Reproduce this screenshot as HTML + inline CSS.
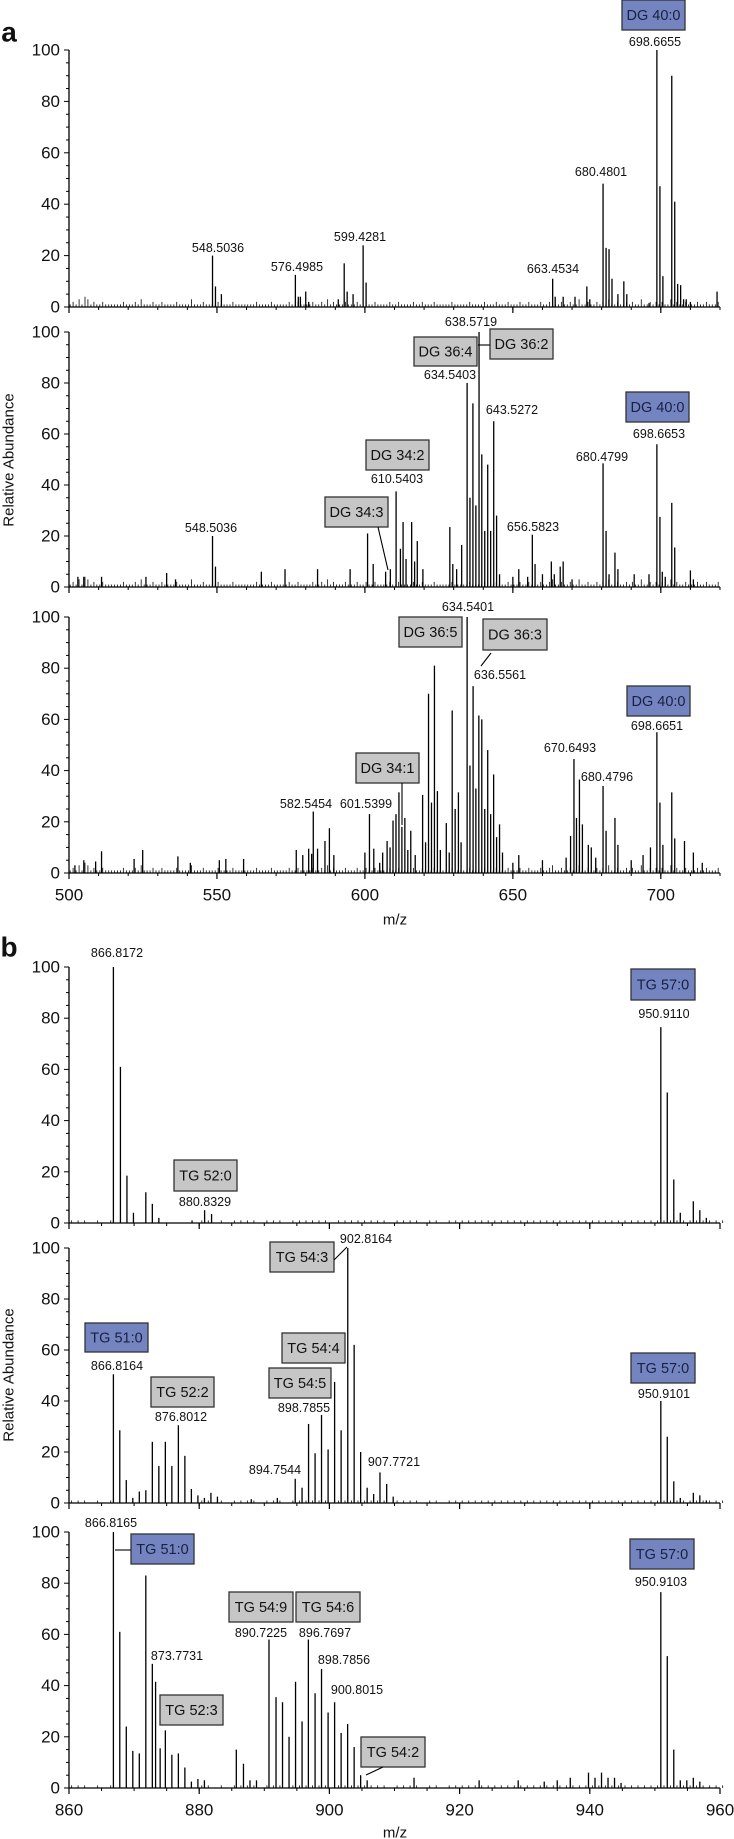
<!DOCTYPE html>
<html><head><meta charset="utf-8"><style>
body{margin:0;background:#fff}
svg{display:block}
text{font-family:"Liberation Sans",Arial,sans-serif}
</style></head><body>
<svg id="chart" width="734" height="1839" viewBox="0 0 734 1839" xmlns="http://www.w3.org/2000/svg"></svg>
<script>
// ---------- DATA ----------
// Panel a1
const a1Mz=[548.5,549.5,551.5,576.5,577.5,578.2,580,581,591,593,594,596,599.4,600.4,663.45,664.3,667,671,675,676,680.48,681.5,682.5,683.5,685.5,687.5,688.5,696,698.67,699.7,700.7,703.7,704.7,705.7,706.7,707.7,708.6,710,719];
const a1Int=[20,8,5,12.5,4,4,6,2,3,17,6,5,24,9.5,11,4,4,4,8,3,48,23,22.5,11,5,10,5,1.5,100,47,12,90,41,9,8.5,3,3,2,6];
// Panel a2
const a2Mz=[503,505,511,526,533,536,548.5,549.5,565,573,584,595,600.9,602.8,607,608.6,610.54,612,612.9,613.9,615.8,616.8,617.7,619.6,628.7,629.7,631,632.7,634.54,635.5,636.5,637.5,638.57,639.5,640.5,641.5,642.5,643.53,644.5,645.5,650,652,655,656.58,657.5,660,663,664,666,667,670,680.48,681.5,682.5,684.5,685.5,691,696,698.67,699.7,700.5,701.5,703.7,704.7,710,711];
const a2Int=[4,4,4,4,5.5,3,20,8,6,7,7,7,21,9,6,7,37.5,15,25.5,11,25.5,10,18,7,23.5,9,7,16.5,80,35,72,32,100,52,22,48,22,65,28,5,4,7,4,20.5,9,5,10,5,8,10,3,48.5,22,5,13.5,7,5,5,56,27.5,6,4,33,15.5,6.5,3];
// Panel a3
const a3Mz=[502,505,509,511,522,524.9,536.8,541,550.8,553,559,576.8,579,581,582,582.55,584,586.5,588,589.5,600,601.54,603,605,606,607.5,608.5,609.5,610.5,611.5,612.5,613.5,614.5,615.5,617,619.5,620.5,621.5,622.5,623.5,624.5,625.5,627.5,628.5,629.5,630.5,631.6,632.5,634.54,635.5,636.56,637.5,638.5,639.5,640.5,641.5,642.5,643.5,644.5,645.5,646.5,650,652,660,668,669.5,670.65,671.5,672.5,673.5,675.5,676.5,678,680.48,681.5,684.5,685.5,690,694,696.5,698.67,699.7,700.7,703.7,704.7,708,711,714];
const a3Int=[3,5,4.5,8.5,5.5,9,6.5,4,5,5.5,5.5,9,7,9.5,7.5,24,9.5,12.5,17.5,7,8,23,9.5,4,8,12.5,10,20.5,23,31.5,18,21.5,9,16.5,7,30.5,12,70,27.5,81,32,9,19.5,8,63.5,25,31.5,12,100,42,73,33,61.5,60,25,48,23,38.5,14,19,8,4,7,5,6,14.5,44.5,21.5,36.5,19,11,10,6,34,16.5,21.5,11,5,7,10,55,27.5,11,31.5,13.5,12.5,8,4];
// Shared baseline noise for panel a (m/z 500..719, step 1)
const aNoise=[1,2,1,3,1,4,3,1,2,1,1,2,1,1,1,1,1,1,2,1,1,1,2,1,3,1,1,1,2,1,1,2,1,1,1,1,2,1,1,1,1,3,1,1,1,2,1,1,1,1,2,1,1,1,1,2,1,1,1,1,1,1,1,2,1,1,1,1,2,1,1,1,1,1,2,1,1,2,1,1,1,1,2,1,1,2,1,3,1,2,1,1,1,2,1,1,1,2,1,1,2,1,1,2,1,1,1,1,2,1,1,2,1,1,1,1,2,1,1,2,1,1,1,2,1,1,1,1,1,2,1,1,1,1,1,2,1,1,1,1,2,1,1,1,2,1,1,1,2,1,1,1,2,1,1,2,1,1,1,2,1,1,2,3,1,1,2,1,1,2,1,1,3,1,1,2,1,1,2,1,2,1,3,1,1,2,1,1,2,1,2,1,1,3,1,1,2,1,2,1,2,1,1,3,1,2,1,1,2,1,1,1,2,1,1,2,1,1,1,2];
// Panel b1
const b1Mz=[866.82,867.9,868.9,869.9,871.8,872.8,873.8,878.9,880.83,881.9,950.91,951.9,952.9,953.9,955.9,956.9,957.9];
const b1Int=[100,61,18.5,4,12,7.5,2,1,5,3.5,76.5,51,17,4,8.5,5,2];
// Panel b2
const b2Mz=[866.82,867.8,868.8,869.8,870.8,871.8,872.8,873.8,874.8,875.8,876.8,877.8,878.8,879.8,880.8,881.8,882.8,888,892,894.75,895.8,896.8,897.8,898.79,899.8,900.8,901.8,902.82,903.8,904.8,905.8,906.8,907.77,908.8,909.8,950.91,951.9,952.9,953.9,955.9,956.9,957.9];
const b2Int=[50.5,28.5,9,2,4.5,5,24,14.5,24,14.5,30.5,18.5,5.5,3,2,4,2.5,1.5,2,9.5,6,31,19.5,34.5,21,47.5,28.5,100,62,20,6,3.5,12,7.5,2.5,40,26,8.5,2,4,3,1];
// Panel b3
const b3Mz=[866.82,867.8,868.8,869.8,870.8,871.8,872.8,873.3,874,874.8,875.8,876.8,877.8,878.8,879.8,880.8,885.7,886.8,887.8,888.8,890.72,891.8,892.8,893.8,894.8,895.8,896.77,897.8,898.79,899.8,900.8,901.8,902.8,903.8,904.8,905.8,913,923,929,933,935,937,939.8,940.8,941.8,942.8,943.8,944.8,950.91,951.9,952.9,953.9,954.9,955.9,956.9];
const b3Int=[100,61,24,14.5,13.5,83,48.5,41.5,15.5,22.5,13,13.5,8,2.5,3.5,3,15,9.5,3,3,58,35.5,33.5,20,41.5,26,58,37,46.5,29.5,33.5,21.5,25,16,5,3,4,3,3,2.5,3,4,6,4,6,4,4,2,76.5,51.5,15,3,3,4,2.5];
// Baseline noise for panel b (m/z 860..960, step 1)
const bNoise=[1,1,1,0,1,0,1,0,0,0,0,0,0,0,0,0,0,0,0,0,1,1,0,1,0,1,1,1,1,0,1,1,1,0,1,1,1,1,1,1,0,1,1,1,1,1,1,1,1,0,1,1,1,1,0,1,1,0,1,1,1,1,1,1,1,1,1,1,1,1,1,1,1,1,1,1,1,1,1,1,1,1,1,1,1,1,1,1,1,1,1,1,1,1,1,1,1,1,1,1,1];
const aTicks=[500,550,600,650,700];
const bTicks=[860,880,900,920,940,960];
const yTicks=[0,20,40,60,80,100];

// ---------- DRAWING ----------
const NS='http://www.w3.org/2000/svg';
const svg=document.getElementById('chart');
function mk(tag,attrs,parent){const e=document.createElementNS(NS,tag);for(const k in attrs)e.setAttribute(k,attrs[k]);(parent||svg).appendChild(e);return e;}
function txt(s,x,y,size,parent,anchor){const t=mk('text',{x:x,y:y,'font-size':size,'text-anchor':anchor||'middle','dominant-baseline':'central',fill:'#111'},parent);t.textContent=s;return t;}

const X0=69,X1=720;
function panel(name,top,bot,xmin,xmax,mz,inten,noise,ticks,minorStep,showLabels){
  const g=mk('g',{});
  
  
  const sx=v=>X0+(v-xmin)/(xmax-xmin)*(X1-X0);
  const sy=v=>bot-v/100*(bot-top);
  // noise
  let d='';
  for(let i=0;i<noise.length;i++){const v=noise[i];if(v>0){const x=sx(xmin+i+0.4);d+='M'+x.toFixed(1)+' '+bot+'V'+sy(v).toFixed(1);}}
  const np=mk('path',{d:d,stroke:'#222','stroke-width':0.9,fill:'none'},g);
  
  
  for(let i=0;i<mz.length;i++){
    const l=mk('line',{x1:sx(mz[i]),x2:sx(mz[i]),y1:bot,y2:sy(inten[i]),stroke:'#000','stroke-width':1.3},g);
    
    
  }
  // axes
  const ya=mk('line',{x1:X0,x2:X0,y1:top,y2:bot,stroke:'#000','stroke-width':1.3},g);
  
  
  const xa=mk('line',{x1:X0,x2:X1,y1:bot,y2:bot,stroke:'#000','stroke-width':1.3},g);
  
  
  for(let v=0;v<=100;v+=5){mk('line',{x1:X0-(v%20===0?5:3),x2:X0,y1:sy(v),y2:sy(v),stroke:'#000','stroke-width':1},g);}
  yTicks.forEach(v=>{const t=txt(String(v),X0-9,sy(v),17,g,'end');});
  for(let v=xmin;v<=xmax+0.001;v+=minorStep){mk('line',{x1:sx(v),x2:sx(v),y1:bot,y2:bot+3,stroke:'#000','stroke-width':1},g);}
  ticks.forEach(v=>{mk('line',{x1:sx(v),x2:sx(v),y1:bot,y2:bot+6,stroke:'#000','stroke-width':1.2},g);
    if(showLabels){const t=txt(String(v),sx(v),bot+22,17,g);}});
  return g;
}
panel('panel-a1',50,307,500,720,a1Mz,a1Int,aNoise,aTicks,10,false);
panel('panel-a2',332,587,500,720,a2Mz,a2Int,aNoise,aTicks,10,false);
panel('panel-a3',617,873,500,720,a3Mz,a3Int,aNoise,aTicks,10,true);
panel('panel-b1',967,1223,860,960,b1Mz,b1Int,bNoise,bTicks,5,false);
panel('panel-b2',1248,1503,860,960,b2Mz,b2Int,bNoise,bTicks,5,false);
panel('panel-b3',1532,1788,860,960,b3Mz,b3Int,bNoise,bTicks,5,true);

// annotations
function lab(s,x,y){const t=txt(s,x,y,12.5);}
function box(s,x1,y1,x2,y2,blue){
  const r=mk('rect',{x:x1,y:y1,width:x2-x1,height:y2-y1,fill:blue?'#7384c0':'#c6c6c6',stroke:'#333','stroke-width':1.3});
  
  
  const t=txt(s,(x1+x2)/2,(y1+y2)/2+1,14.5);t.setAttribute('fill',blue?'#1a2040':'#111');
  
  
}
function conn(x1,y1,x2,y2){const l=mk('line',{x1:x1,y1:y1,x2:x2,y2:y2,stroke:'#000','stroke-width':1.1});}

// a1
box('DG 40:0',622,0,685,30,true);lab('698.6655',655,42);
lab('548.5036',218,248);lab('576.4985',297,267);lab('599.4281',360,237);lab('663.4534',553,269);lab('680.4801',601,172);
// a2
lab('638.5719',471,322);box('DG 36:4',414,337,477,366,false);box('DG 36:2',490,329,553,359,false);conn(478,345,490,345);
lab('634.5403',450,375);lab('643.5272',512,410);box('DG 40:0',626,392,689,422,true);lab('698.6653',659,434);
lab('680.4799',602,457);box('DG 34:2',366,440,429,470,false);lab('610.5403',397,479);
box('DG 34:3',325,497,388,527,false);conn(378,527,388,570);lab('548.5036',211,528);lab('656.5823',533,527);
// a3
lab('634.5401',468,607);box('DG 36:5',399,617,462,647,false);box('DG 36:3',483,619,547,650,false);conn(491,653,481,666);
lab('636.5561',500,675);box('DG 40:0',627,686,690,716,true);lab('698.6651',657,726);lab('670.6493',570,748);lab('680.4796',607,777);
box('DG 34:1',356,753,419,783,false);conn(402,783,402,825);lab('582.5454',306,804);lab('601.5399',366,804);
// b1
lab('866.8172',117,953);box('TG 57:0',631,969,695,1000,true);lab('950.9110',664,1014);box('TG 52:0',174,1160,237,1191,false);lab('880.8329',205,1202);
// b2
lab('902.8164',366,1239);box('TG 54:3',270,1242,334,1272,false);conn(334,1260,347,1247);
box('TG 51:0',85,1323,148,1352,true);lab('866.8164',117,1366);box('TG 52:2',151,1377,214,1407,false);lab('876.8012',181,1417);
box('TG 54:4',282,1333,345,1363,false);box('TG 54:5',269,1368,331,1398,false);lab('898.7855',304,1408);
lab('894.7544',275,1470);lab('907.7721',394,1462);box('TG 57:0',631,1353,695,1383,true);lab('950.9101',664,1394);
// b3
lab('866.8165',111,1523);box('TG 51:0',131,1534,194,1564,true);conn(115,1550,131,1550);
box('TG 57:0',630,1539,694,1569,true);lab('950.9103',661,1582);
box('TG 54:9',229,1592,293,1622,false);box('TG 54:6',296,1592,360,1622,false);
lab('890.7225',261,1633);lab('896.7697',325,1633);lab('873.7731',177,1656);lab('898.7856',344,1660);lab('900.8015',357,1690);
box('TG 52:3',160,1695,223,1725,false);box('TG 54:2',361,1737,425,1767,false);conn(383,1767,366,1775);

// titles
function title(s,x,y,size,rot,name){const t=txt(s,x,y,size);if(rot)t.setAttribute('transform','rotate(-90 '+x+' '+y+')');return t;}
title('m/z',395,920,15,false,'x-axis-title-a');
title('m/z',395,1833,15,false,'x-axis-title-b');
title('Relative Abundance',9,460,15,true,'y-axis-title-a');
title('Relative Abundance',9,1375,15,true,'y-axis-title-b');
const pa=txt('a',9,32,28);pa.setAttribute('font-weight','bold');
const pb=txt('b',9,947,28);pb.setAttribute('font-weight','bold');
</script>
</body></html>
